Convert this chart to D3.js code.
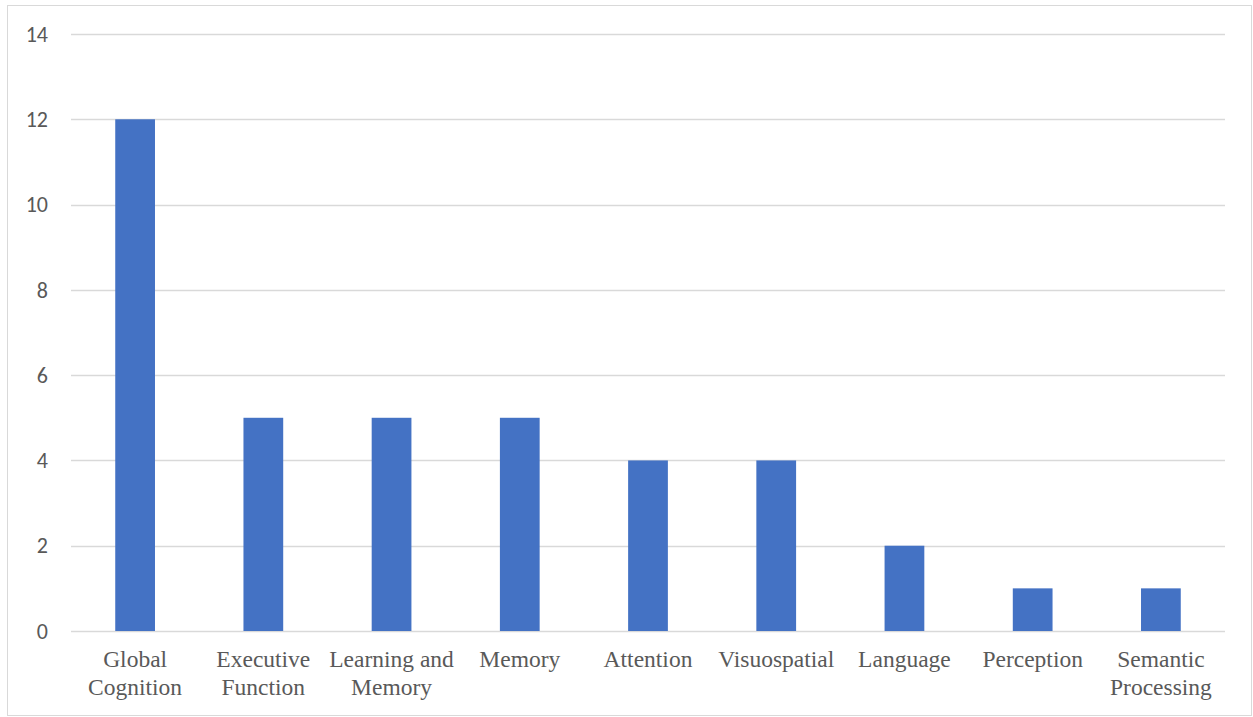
<!DOCTYPE html>
<html>
<head>
<meta charset="utf-8">
<script src="https://cdn.jsdelivr.net/npm/d3@7"></script>
<style>
  body { margin: 0; background: #fff; }
  svg { display: block; }
</style>
</head>
<body>
<div id="chart"></div>
<script>
// categories and counts
var categories = [
  ["Global", "Cognition"],
  ["Executive", "Function"],
  ["Learning and", "Memory"],
  ["Memory"],
  ["Attention"],
  ["Visuospatial"],
  ["Language"],
  ["Perception"],
  ["Semantic", "Processing"]
];
var counts = [12, 5, 5, 5, 4, 4, 2, 1, 1];
var yTicks = [0, 2, 4, 6, 8, 10, 12, 14];

var W = 1253, H = 717;
var margin = {top: 34, right: 28, bottom: 86, left: 71};
var width = W - margin.left - margin.right,
    height = H - margin.top - margin.bottom;

var svg = d3.select("#chart").append("svg")
    .attr("width", W)
    .attr("height", H);

// outer chart border
svg.append("rect")
    .attr("x", 7.5).attr("y", 5.5)
    .attr("width", W - 9).attr("height", H - 7)
    .attr("fill", "#fff")
    .attr("stroke", "#d9d9d9")
    .attr("stroke-width", 1);

var g = svg.append("g")
    .attr("transform", "translate(" + margin.left + "," + margin.top + ")");

var x = d3.scaleBand()
    .domain(d3.range(categories.length))
    .range([0, width])
    .paddingInner(0.69)
    .paddingOuter(0.345);

var y = d3.scaleLinear()
    .domain([0, 14])
    .range([height, 0]);

// gridlines
g.selectAll(".grid").data(yTicks).enter().append("line")
    .attr("class", "grid")
    .attr("x1", 0).attr("x2", width)
    .attr("y1", function(d) { return Math.round(y(d)) + 0.5; })
    .attr("y2", function(d) { return Math.round(y(d)) + 0.5; })
    .attr("stroke", "#d9d9d9")
    .attr("stroke-width", 1.3);

// y labels
g.selectAll(".ylab").data(yTicks).enter().append("text")
    .attr("class", "ylab")
    .attr("x", -23)
    .attr("y", function(d) { return y(d); })
    .attr("dy", "0.35em")
    .attr("text-anchor", "end")
    .attr("font-family", "Carlito, 'Liberation Sans', 'Noto Sans', sans-serif")
    .attr("font-size", "22px")
    .attr("fill", "#595959")
    .text(function(d) { return d; });

// bars
g.selectAll(".bar").data(counts).enter().append("rect")
    .attr("class", "bar")
    .attr("x", function(d, i) { return x(i); })
    .attr("width", x.bandwidth())
    .attr("y", function(d) { return y(d); })
    .attr("height", function(d) { return height - y(d); })
    .attr("fill", "#4472c4");

// x labels
var xl = g.selectAll(".xlab").data(categories).enter().append("text")
    .attr("class", "xlab")
    .attr("text-anchor", "middle")
    .attr("font-family", "'Liberation Serif', 'DejaVu Serif', serif")
    .attr("font-size", "23.5px")
    .attr("fill", "#595959")
    .attr("transform", function(d, i) {
      return "translate(" + (x(i) + x.bandwidth() / 2) + "," + (height + 36) + ")";
    });

xl.selectAll("tspan").data(function(d) { return d; }).enter().append("tspan")
    .attr("x", 0)
    .attr("dy", function(d, i) { return i === 0 ? 0 : 28; })
    .text(function(d) { return d; });
</script>
</body>
</html>
